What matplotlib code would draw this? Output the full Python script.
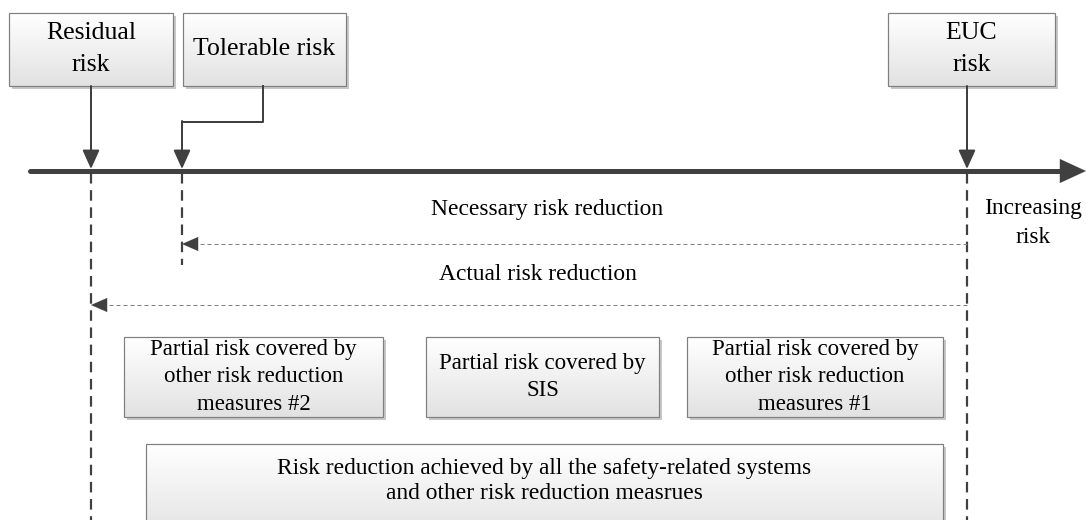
import numpy as np
import matplotlib.pyplot as plt
from matplotlib.colors import LinearSegmentedColormap
from matplotlib.patches import Rectangle

plt.rcParams['font.family'] = ['Liberation Serif', 'DejaVu Serif']

# labels
top_labels = ['Residual\nrisk', 'Tolerable risk', 'EUC\nrisk']
partial_labels = ['Partial risk covered by\nother risk reduction\nmeasures #2',
                  'Partial risk covered by\nSIS',
                  'Partial risk covered by\nother risk reduction\nmeasures #1']
bottom_label = 'Risk reduction achieved by all the safety-related systems\nand other risk reduction measrues'
arrow_labels = ['Necessary risk reduction', 'Actual risk reduction']
axis_label = 'Increasing\nrisk'

# layout (pixels)
top_boxes = [(9, 13, 173, 86), (183, 13, 346, 86), (888, 13, 1055, 86)]
partial_boxes = [(124, 337, 383, 417), (426, 337, 659, 417), (687, 337, 943, 417)]
bottom_box = (146, 444, 943, 540)
axis_y = 171
x_resid, x_toler, x_euc = 91, 182, 967

dark = '#404040'
grad = LinearSegmentedColormap.from_list('g', ['#ffffff', '#e2e2e2'])

fig = plt.figure(figsize=(1086 / 72, 520 / 72), dpi=72)
ax = fig.add_axes([0, 0, 1, 1])
ax.axis('off')


def box(b, text, fs, ls, ty=None):
    x0, y0, x1, y1 = b
    ax.add_patch(Rectangle((x0 + 3, y0 + 3), x1 - x0, y1 - y0, color='#c8c8c8', lw=0, zorder=1))
    g = np.linspace(0, 1, 64).reshape(-1, 1)
    ax.imshow(g, cmap=grad, extent=(x0, x1, y1, y0), aspect='auto', zorder=2, interpolation='bilinear')
    ax.add_patch(Rectangle((x0, y0), x1 - x0, y1 - y0, fill=False, ec='#7f7f7f', lw=1.2, zorder=3))
    if ty is None:
        ty = (y0 + y1) / 2
    ax.text((x0 + x1) / 2, ty, text, ha='center', va='center',
            fontsize=fs, linespacing=ls, zorder=4)


def head(x_from, y_from, x_to, y_to, lw=2, hl=0.8, hw=0.36):
    ax.annotate('', xy=(x_to, y_to), xytext=(x_from, y_from),
                arrowprops=dict(arrowstyle='-|>,head_length=%s,head_width=%s' % (hl, hw),
                                color=dark, lw=lw, shrinkA=0, shrinkB=0, mutation_scale=20),
                zorder=6)


for b, t in zip(top_boxes, top_labels):
    box(b, t, 25.7, 1.55, 49)
for b, t in zip(partial_boxes, partial_labels):
    box(b, t, 22.9, 1.38)
box(bottom_box, bottom_label, 23.5, 1.3, 481)

# main axis
ax.plot([30, 1062], [axis_y, axis_y], color=dark, lw=5, solid_capstyle='round', zorder=5)
head(1055, axis_y, 1086, axis_y, lw=0.1, hl=1.3, hw=0.6)

# pointers from top boxes
head(x_resid, 86, x_resid, axis_y - 2)
head(x_euc, 86, x_euc, axis_y - 2)
xt = (top_boxes[1][0] + top_boxes[1][2]) / 2 - 2
ax.plot([xt, xt, x_toler], [86, 122, 122], color=dark, lw=2, zorder=5)
head(x_toler, 121, x_toler, axis_y - 2)

# dashed guides
for x, y_end in [(x_resid, 525), (x_euc, 525), (x_toler, 265)]:
    ax.plot([x, x], [axis_y + 2, y_end], color=dark, lw=2.2, linestyle=(0, (4.8, 3)), zorder=4)

# reduction arrows
for (x_end, y), lab, tx, ty in [((x_toler, 244), arrow_labels[0], 547, 210),
                                ((x_resid, 305), arrow_labels[1], 538, 275)]:
    ax.plot([x_euc, x_end + 10], [y, y], color='#808080', lw=1, linestyle=(0, (4, 3)), zorder=4)
    head(x_end + 16, y, x_end, y, lw=0.1, hl=0.8, hw=0.35)
    ax.text(tx, ty, lab, ha='center', va='center', fontsize=23.5)

ax.text(1033, 223, axis_label, ha='center', va='center', fontsize=23.5, linespacing=1.46)

ax.set_xlim(0, 1086)
ax.set_ylim(520, 0)
fig.savefig('out.png', dpi=72)
